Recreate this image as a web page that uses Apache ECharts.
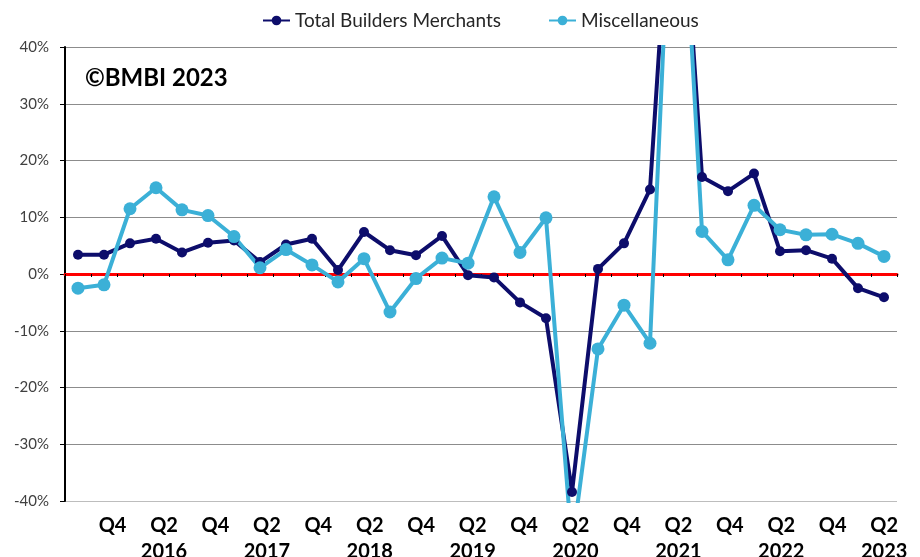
<!DOCTYPE html>
<html>
<head>
<meta charset="utf-8">
<script src="https://cdn.jsdelivr.net/npm/echarts@6/dist/echarts.min.js"></script>
<style>
  html, body { margin: 0; padding: 0; background: #ffffff; }
  #chart { width: 920px; height: 557px; }
</style>
</head>
<body>
<div id="chart"></div>
<script>
// Quarterly year-on-year change, Q3 2015 to Q2 2023
const quarters = [
  'Q3 2015', 'Q4 2015',
  'Q1 2016', 'Q2 2016', 'Q3 2016', 'Q4 2016',
  'Q1 2017', 'Q2 2017', 'Q3 2017', 'Q4 2017',
  'Q1 2018', 'Q2 2018', 'Q3 2018', 'Q4 2018',
  'Q1 2019', 'Q2 2019', 'Q3 2019', 'Q4 2019',
  'Q1 2020', 'Q2 2020', 'Q3 2020', 'Q4 2020',
  'Q1 2021', 'Q2 2021', 'Q3 2021', 'Q4 2021',
  'Q1 2022', 'Q2 2022', 'Q3 2022', 'Q4 2022',
  'Q1 2023', 'Q2 2023'
];

const totalBuildersMerchants = [
  3.4, 3.4,
  5.4, 6.2, 3.8, 5.5,
  5.9, 2.1, 5.2, 6.2,
  0.7, 7.4, 4.2, 3.3,
  6.7, -0.2, -0.6, -5.0,
  -7.8, -38.4, 0.9, 5.4,
  14.9, 85.0, 17.1, 14.6,
  17.7, 4.0, 4.2, 2.7,
  -2.5, -4.1
];

const miscellaneous = [
  -2.5, -1.9,
  11.5, 15.2, 11.3, 10.3,
  6.6, 1.1, 4.3, 1.6,
  -1.4, 2.7, -6.7, -0.8,
  2.8, 1.9, 13.6, 3.8,
  9.9, -48.0, -13.2, -5.5,
  -12.2, 90.0, 7.5, 2.5,
  12.1, 7.8, 6.9, 7.0,
  5.4, 3.1
];

const yTicks = { min: -40, max: 40, step: 10 };

const FONT = 'Lato, "Open Sans", sans-serif';

// grid line colours from -40% upwards: light floor, red zero line, grey elsewhere
const gridColors = [];
for (let v = yTicks.min; v <= yTicks.max; v += yTicks.step) {
  gridColors.push(v === yTicks.min ? '#bdbdbd' : (v === 0 ? '#ff0000' : '#8c8c8c'));
}

const chart = echarts.init(document.getElementById('chart'), null, { renderer: 'canvas' });

chart.setOption({
  animation: false,
  backgroundColor: '#ffffff',
  textStyle: { fontFamily: FONT },
  legend: {
    top: 6,
    left: 257,
    itemWidth: 27,
    itemHeight: 12,
    itemGap: 47,
    textStyle: { fontFamily: FONT, fontSize: 19, color: '#262626' },
    data: ['Total Builders Merchants', 'Miscellaneous']
  },
  graphic: [{
    type: 'text',
    left: 85,
    top: 66,
    style: {
      text: '©BMBI 2023',
      font: 'bold 24px ' + FONT,
      fill: '#000'
    }
  }],
  grid: [
    // plot area
    { left: 65, right: 23, top: 47, bottom: 56, containLabel: false, outerBoundsMode: 'none' },
    // band used only for the quarter / year labels
    { left: 74, right: 23, top: 47, bottom: 56, containLabel: false, outerBoundsMode: 'none' }
  ],
  xAxis: [
    {
      // zero line with quarter ticks, above the grid lines but below the series
      type: 'category',
      gridIndex: 0,
      z: 1,
      data: quarters,
      boundaryGap: true,
      axisLine: { onZero: true, lineStyle: { color: '#ff0000', width: 3 } },
      axisTick: { show: true, interval: 0, length: 3, lineStyle: { color: '#000', width: 1 } },
      axisLabel: { show: false },
      splitLine: { show: false }
    },
    {
      // quarter / year labels along the bottom
      type: 'category',
      gridIndex: 1,
      data: quarters,
      position: 'bottom',
      boundaryGap: true,
      axisLine: { show: false, onZero: false },
      axisTick: { show: false },
      splitLine: { show: false },
      axisLabel: {
        interval: function (idx, val) {
          return val.indexOf('Q2') === 0 || val.indexOf('Q4') === 0;
        },
        hideOverlap: false,
        margin: 12,
        fontFamily: FONT,
        fontWeight: 'bold',
        fontSize: 20,
        lineHeight: 26,
        color: '#000',
        formatter: function (val) {
          const parts = val.split(' ');
          return parts[0] === 'Q2' ? parts[0] + '\n' + parts[1] : parts[0];
        }
      }
    }
  ],
  yAxis: [
    {
      type: 'value',
      gridIndex: 0,
      z: 0,
      min: yTicks.min,
      max: yTicks.max,
      interval: yTicks.step,
      axisLine: { show: true, lineStyle: { color: '#000', width: 2 } },
      axisTick: { show: true, length: 5, lineStyle: { color: '#000', width: 1 } },
      axisLabel: {
        formatter: '{value}%',
        fontFamily: FONT,
        fontSize: 15,
        color: '#404040',
        margin: 16
      },
      splitLine: { show: true, lineStyle: { color: gridColors, width: 1 } }
    },
    {
      type: 'value',
      gridIndex: 1,
      min: yTicks.min,
      max: yTicks.max,
      interval: yTicks.step,
      show: false
    }
  ],
  series: [
    {
      name: 'Total Builders Merchants',
      type: 'line',
      xAxisIndex: 0,
      yAxisIndex: 0,
      data: totalBuildersMerchants,
      clip: true,
      symbol: 'circle',
      symbolSize: 10,
      showAllSymbol: true,
      color: '#0d0d6b',
      lineStyle: { color: '#0d0d6b', width: 4 },
      itemStyle: { color: '#0d0d6b' }
    },
    {
      name: 'Miscellaneous',
      type: 'line',
      xAxisIndex: 0,
      yAxisIndex: 0,
      data: miscellaneous,
      clip: true,
      symbol: 'circle',
      symbolSize: 13,
      showAllSymbol: true,
      color: '#3bb0d7',
      lineStyle: { color: '#3bb0d7', width: 4 },
      itemStyle: { color: '#3bb0d7' }
    }
  ]
});
</script>
</body>
</html>
